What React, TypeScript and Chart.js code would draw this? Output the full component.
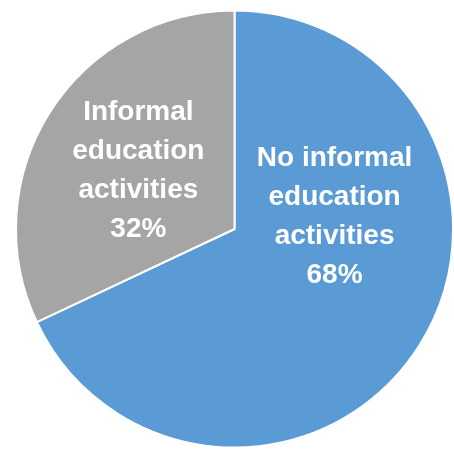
import React, { useEffect, useRef } from "react";
import { Chart, registerables } from "chart.js";

Chart.register(...registerables);

const categories: string[][] = [
  ["No informal", "education", "activities"],
  ["Informal", "education", "activities"],
];
const values: number[] = [68, 32];
const colors: string[] = ["#5B9BD5", "#A5A5A5"];

// label anchor offsets relative to pie centre, as fraction of radius
const labelOffsets = [
  { dx: 0.458, dy: -0.02 },
  { dx: -0.44, dy: -0.23 },
];

const labelPlugin = {
  id: "sliceLabels",
  afterDatasetsDraw(chart: any) {
    const meta = chart.getDatasetMeta(0);
    const ctx = chart.ctx;
    const total = values.reduce((a, b) => a + b, 0);
    ctx.save();
    ctx.font = 'bold 28px "Liberation Sans", Arial, sans-serif';
    ctx.fillStyle = "#FFFFFF";
    ctx.textAlign = "center";
    ctx.textBaseline = "alphabetic";
    const lineH = 39;
    meta.data.forEach((arc: any, i: number) => {
      const r = arc.outerRadius;
      const cx = arc.x + labelOffsets[i].dx * r;
      const cy = arc.y + labelOffsets[i].dy * r;
      const lines = [...categories[i], Math.round((values[i] / total) * 100) + "%"];
      const start = cy - ((lines.length - 1) * lineH) / 2;
      lines.forEach((t, k) => ctx.fillText(t, cx, start + k * lineH));
    });
    ctx.restore();
  },
};

export default function App() {
  const ref = useRef<HTMLCanvasElement | null>(null);
  useEffect(() => {
    if (!ref.current) return;
    const chart = new Chart(ref.current, {
      type: "pie",
      data: {
        labels: categories.map((c) => c.join(" ")),
        datasets: [
          {
            data: values,
            backgroundColor: colors,
            borderColor: "#FFFFFF",
            borderWidth: 2,
          },
        ],
      },
      options: {
        responsive: false,
        animation: false,
        layout: { padding: { left: 15, top: 9, right: 0, bottom: 0 } },
        plugins: {
          legend: { display: false },
          tooltip: { enabled: false },
        },
      },
      plugins: [labelPlugin],
    });
    return () => chart.destroy();
  }, []);
  return (
    <div style={{ position: "fixed", left: 0, top: 0, width: 454, height: 449, background: "#fff" }}>
      <canvas ref={ref} width={454} height={449} />
    </div>
  );
}
